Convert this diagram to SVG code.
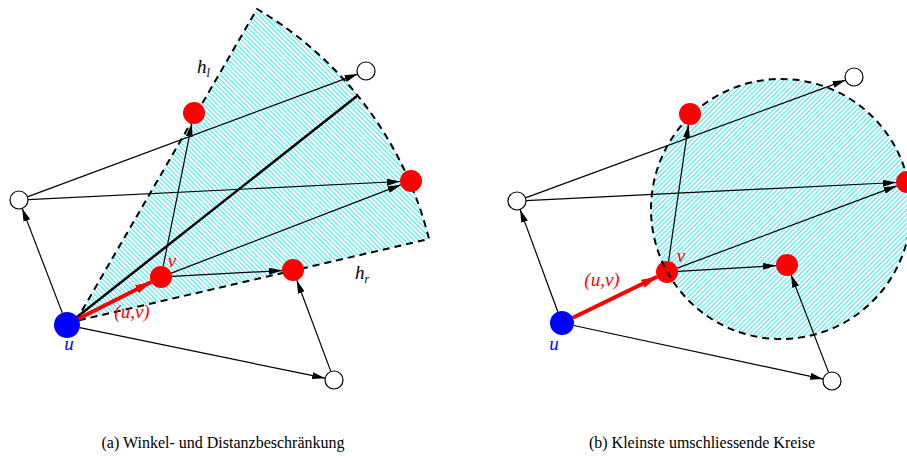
<svg xmlns="http://www.w3.org/2000/svg" width="907" height="458" viewBox="0 0 907 458">
<style>
.e{stroke:#000;stroke-width:1.2;fill:none;marker-end:url(#ah)}
.ue{stroke:#f00;stroke-width:4;fill:none;marker-end:url(#rh)}
.dash{stroke:#000;stroke-width:2;fill:none;stroke-dasharray:7 5}
.red{fill:#f00}
.blue{fill:#00f}
.wht{fill:#fff;stroke:#000;stroke-width:1.2}
.lab{font-family:"Liberation Serif",serif;font-style:italic;font-size:19px}
.cap{font-family:"Liberation Serif",serif;font-size:16px;fill:#000}
</style>
<defs>
<marker id="ah" viewBox="0 0 13 7" refX="13" refY="3.5" markerWidth="13" markerHeight="7" markerUnits="userSpaceOnUse" orient="auto"><path d="M0,0 L13,3.5 L0,7 Z" fill="#000"/></marker>
<marker id="rh" viewBox="0 0 16 9" refX="16" refY="4.5" markerWidth="16" markerHeight="9" markerUnits="userSpaceOnUse" orient="auto"><path d="M0,0 L16,4.5 L0,9 Z" fill="#f00"/></marker>
<pattern id="hatchL" width="3.3" height="3.3" patternUnits="userSpaceOnUse" patternTransform="rotate(-45)"><line x1="0.6" y1="0" x2="0.6" y2="3.3" stroke="#22e4f0" stroke-width="0.9"/></pattern>
<pattern id="hatchR" width="3.3" height="3.3" patternUnits="userSpaceOnUse" patternTransform="rotate(45)"><line x1="0.6" y1="0" x2="0.6" y2="3.3" stroke="#22e4f0" stroke-width="0.9"/></pattern>
</defs>

<!-- Panel (a) -->
<g id="region-a">
<path d="M76,321 L257,9 A370,370 0 0 1 429,239 Z" fill="url(#hatchL)"/>
<path class="dash" d="M76,321 L257,9 A370,370 0 0 1 429,239 Z"/>
</g>
<g id="connectors-a">
<line x1="72" y1="321" x2="357" y2="96" stroke="#000" stroke-width="2.5"/>
<line class="e" x1="62.3" y1="312.9" x2="22.2" y2="208.4"/>
<line class="e" x1="79.7" y1="327.6" x2="325.2" y2="378.2"/>
<line class="e" x1="330.9" y1="371.6" x2="296.8" y2="280.3"/>
<line class="e" x1="27.4" y1="196.9" x2="357.6" y2="74.1"/>
<line class="e" x1="28" y1="199.6" x2="400" y2="181.5"/>
<line class="e" x1="163.2" y1="266.2" x2="191.8" y2="123.8"/>
<line class="e" x1="171.3" y1="273.1" x2="400.7" y2="184.9"/>
<line class="e" x1="172" y1="276.4" x2="282" y2="270.6"/>
<line class="ue" x1="74" y1="321" x2="151.2" y2="282"/>
</g>
<g id="a-u"><circle class="blue" cx="67" cy="325" r="13"/><text class="lab" x="69" y="350" fill="#00f" text-anchor="middle">u</text></g>
<g id="a-v"><circle class="red" cx="161" cy="277" r="11"/><text class="lab" x="172" y="267" fill="#f00" text-anchor="middle">v</text></g>
<g id="a-rt"><circle class="red" cx="194" cy="113" r="11"/></g>
<g id="a-rr"><circle class="red" cx="411" cy="181" r="11"/></g>
<g id="a-rb"><circle class="red" cx="293" cy="270" r="11"/></g>
<g id="a-wl"><circle class="wht" cx="19" cy="200" r="9"/></g>
<g id="a-wtr"><circle class="wht" cx="366" cy="71" r="9"/></g>
<g id="a-wb"><circle class="wht" cx="334" cy="380" r="9"/></g>
<g id="a-labels">
<text class="lab" x="132" y="318" fill="#f00" text-anchor="middle">(u,v)</text>
<text class="lab" x="197" y="73" fill="#000">h<tspan font-size="12" dy="4">l</tspan></text>
<text class="lab" x="355" y="279" fill="#000">h<tspan font-size="12" dy="4">r</tspan></text>
</g>

<!-- Panel (b) -->
<g id="region-b">
<circle cx="781" cy="209" r="130" fill="url(#hatchR)"/>
</g>
<g id="connectors-b">
<line class="e" x1="557.8" y1="311.7" x2="520.1" y2="209.4"/>
<line class="e" x1="573.7" y1="325.5" x2="823.2" y2="379.1"/>
<line class="e" x1="828.7" y1="372.6" x2="791" y2="274.7"/>
<line class="e" x1="525.4" y1="197.9" x2="845.6" y2="80.1"/>
<line class="e" x1="526" y1="200.6" x2="896" y2="182.5"/>
<line class="e" x1="668.6" y1="261.1" x2="688.4" y2="124.9"/>
<line class="e" x1="677.3" y1="268.1" x2="896.7" y2="185.9"/>
<line class="e" x1="678" y1="271.4" x2="776" y2="265.6"/>
<line class="ue" x1="572.8" y1="317.8" x2="657.1" y2="276.8"/>
</g>
<g id="b-u"><circle class="blue" cx="562" cy="323" r="12"/><text class="lab" x="554" y="350" fill="#00f" text-anchor="middle">u</text></g>
<g id="b-v"><circle class="red" cx="667" cy="272" r="11"/><text class="lab" x="681" y="262" fill="#f00" text-anchor="middle">v</text></g>
<g id="b-outline"><circle class="dash" cx="781" cy="209" r="130"/></g>
<g id="b-rt"><circle class="red" cx="690" cy="114" r="11"/></g>
<g id="b-rr"><circle class="red" cx="907" cy="182" r="11"/></g>
<g id="b-rb"><circle class="red" cx="787" cy="265" r="11"/></g>
<g id="b-wl"><circle class="wht" cx="517" cy="201" r="9"/></g>
<g id="b-wtr"><circle class="wht" cx="854" cy="77" r="9"/></g>
<g id="b-wb"><circle class="wht" cx="832" cy="381" r="9"/></g>
<g id="b-labels">
<text class="lab" x="602" y="286" fill="#f00" text-anchor="middle">(u,v)</text>
</g>

<g id="captions">
<text class="cap" x="223" y="448" text-anchor="middle">(a) Winkel- und Distanzbeschränkung</text>
<text class="cap" x="702" y="448" text-anchor="middle">(b) Kleinste umschliessende Kreise</text>
</g>
</svg>
